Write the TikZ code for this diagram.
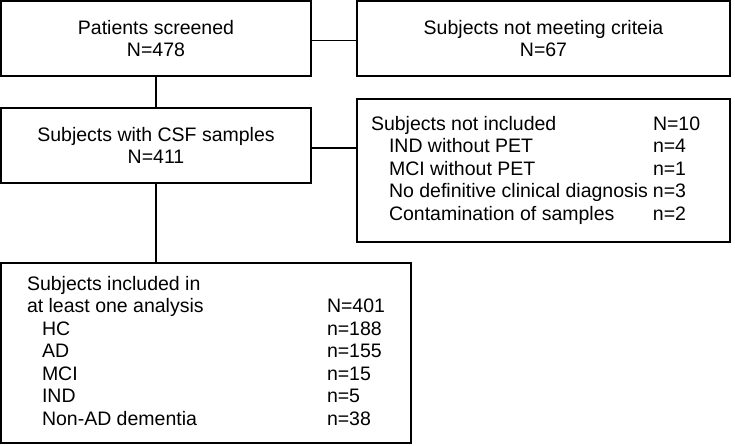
\documentclass[tikz,border=0pt]{standalone}
\usepackage{fontspec}
\setmainfont{Liberation Sans}
\usepackage{array}
\usetikzlibrary{positioning}
\usetikzlibrary{calc}

\begin{document}
\begin{tikzpicture}[x=1pt, y=-1pt,
		box/.style = {
			draw, line width=1.9pt, rectangle, inner sep=0pt, outer sep=0pt,
			align=center, font=\fontsize{19.5}{22.5}\selectfont
		},
		link/.style = {line width=1.9pt}]
		\useasboundingbox (0,0) rectangle (735,445);
		\node (scr) [box, minimum width=310pt, minimum height=75pt] at (156,38.5) {Patients screened\\N=478};
		\node (nmc) [box, minimum width=373pt, minimum height=75pt] at (543.5,38.5) {Subjects not meeting criteia\\N=67};
		\node (csf) [box, minimum width=310pt, minimum height=75pt] at (156,145.5) {Subjects with CSF samples\\N=411};
		\node (nincl) [box, minimum width=373pt, minimum height=143pt] at (543.5,170.5) {%
			\begin{tabular}{@{\hspace{14pt}}p{282pt}@{}p{77pt}@{}}
				Subjects not included & N=10\\
				\hspace*{18pt}IND without PET & n=4\\
				\hspace*{18pt}MCI without PET & n=1\\
				\hspace*{18pt}No definitive clinical diagnosis & n=3\\
				\hspace*{18pt}Contamination of samples & n=2
			\end{tabular}};
		\node (incl) [box, minimum width=410pt, minimum height=180pt] at (206,353) {%
			\begin{tabular}{@{\hspace{26pt}}p{300pt}@{}p{84pt}@{}}
				Subjects included in & \\
				at least one analysis & N=401\\
				\hspace*{15pt}HC & n=188\\
				\hspace*{15pt}AD & n=155\\
				\hspace*{15pt}MCI & n=15\\
				\hspace*{15pt}IND & n=5\\
				\hspace*{15pt}Non-AD dementia & n=38
			\end{tabular}};
		\draw [link] ($(scr.east)+(0,2)$) -- ($(nmc.west)+(0,2)$);
		\draw [link] (scr.south) -- (csf.north);
		\draw [link] ($(csf.east)+(0,2.5)$) -- ($(csf.east -| nincl.west)+(0,2.5)$);
		\draw [link] (csf.south) -- (csf.south |- incl.north);
	\end{tikzpicture}
\end{document}
